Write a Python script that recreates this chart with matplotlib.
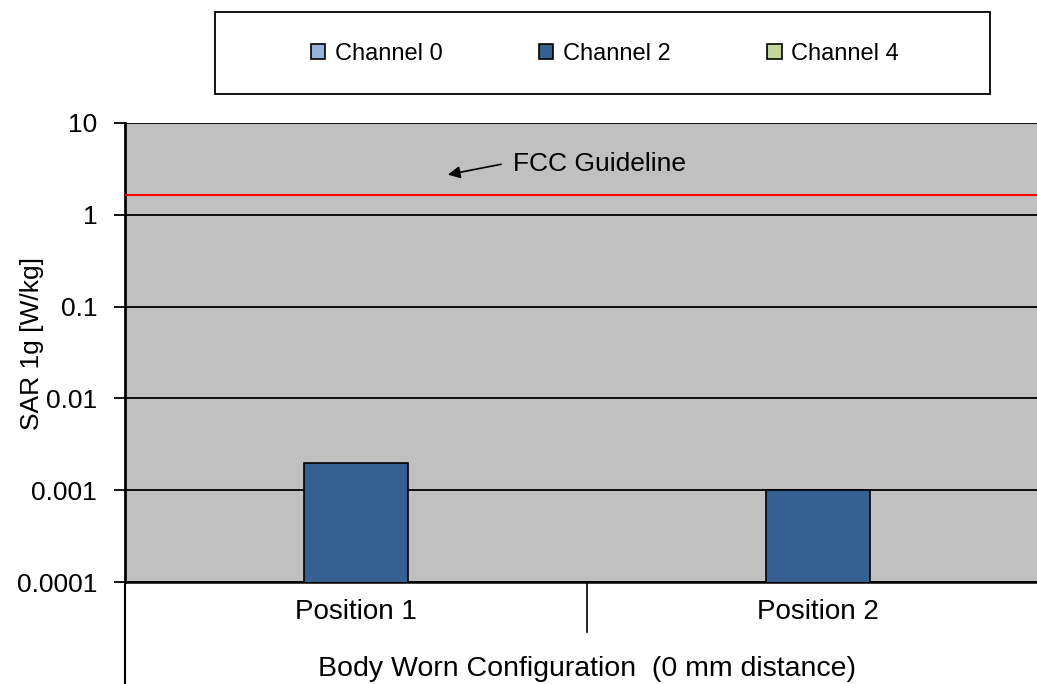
import numpy as np
import matplotlib.pyplot as plt
from matplotlib.patches import Patch, Rectangle

plt.rcParams['font.family'] = ['Liberation Sans', 'DejaVu Sans']

positions = ['Position 1', 'Position 2']
channels = ['Channel 0', 'Channel 2', 'Channel 4']
sar_values = {
    'Channel 0': [np.nan, np.nan],
    'Channel 2': [0.002, 0.001],
    'Channel 4': [np.nan, np.nan],
}
colors = {'Channel 0': '#95B3D7', 'Channel 2': '#376092', 'Channel 4': '#C3D69B'}
fcc_limit = 1.65
group_label = 'Body Worn Configuration  (0 mm distance)'

fig = plt.figure(figsize=(10.37, 6.84), dpi=100)
ax = fig.add_axes([125 / 1037, 102 / 684, 924 / 1037, 459 / 684])
ax.set_facecolor('#C0C0C0')

x = np.arange(len(positions))
width = 0.223
for i, ch in enumerate(channels):
    ax.bar(x + (i - 1) * width, sar_values[ch], width, color=colors[ch],
           edgecolor='black', linewidth=1.2, zorder=3)

ax.set_yscale('log')
ax.set_ylim(0.0001, 10)
ax.set_xlim(-0.5, len(positions) - 0.5)
ax.set_yticks([0.0001, 0.001, 0.01, 0.1, 1, 10])
ax.set_yticklabels(['0.0001', '0.001', '0.01', '0.1', '1', '10'])
ax.yaxis.set_minor_locator(plt.NullLocator())
ax.grid(axis='y', color='black', linewidth=1.3, zorder=1)
ax.tick_params(axis='y', length=8, width=1.3, labelsize=19, pad=12)
ax.tick_params(axis='x', length=0, labelsize=20, pad=12)
ax.set_xticks(x)
ax.set_xticklabels(positions)
ax.set_ylabel('SAR 1g [W/kg]', fontsize=19)
ax.yaxis.set_label_coords(-0.088, 0.52)

for side in ['top', 'right']:
    ax.spines[side].set_visible(False)
ax.spines['left'].set_linewidth(2)
ax.spines['bottom'].set_linewidth(1.8)

# red FCC line
ax.axhline(fcc_limit, color='#FF0000', linewidth=1.5, zorder=4)
ax.annotate('', xy=(0.193, 2.7), xytext=(0.32, 3.6),
            arrowprops=dict(arrowstyle='-|>', color='black', lw=1.2,
                            mutation_scale=18))
ax.text(0.34, 3.55, 'FCC Guideline', fontsize=19, va='center', ha='left')

# category separators below the axis
trans = ax.get_xaxis_transform()
ax.plot([-0.5, -0.5], [0, -0.23], color='black', lw=1.5, transform=trans, clip_on=False)
ax.plot([0.5, 0.5], [0, -0.109], color='black', lw=1.2, transform=trans, clip_on=False)
ax.text(0.5, -0.19, group_label, transform=trans, ha='center', va='center', fontsize=20.5)

# legend box
fig.patches.append(Rectangle((215 / 1037, 1 - 94 / 684), 775 / 1037, 82 / 684,
                             transform=fig.transFigure, facecolor='white',
                             edgecolor='black', linewidth=1.3))
handles = [Patch(facecolor=colors[ch], edgecolor='black', linewidth=1.2, label=ch) for ch in channels]
leg = fig.legend(handles=handles, loc='center', ncol=3,
                 bbox_to_anchor=(605 / 1037, 1 - 54 / 684),
                 frameon=False, fontsize=17,
                 handlelength=0.6, handleheight=0.6, handletextpad=0.4,
                 columnspacing=4.1, borderaxespad=0)

fig.savefig('out.png', dpi=100)
